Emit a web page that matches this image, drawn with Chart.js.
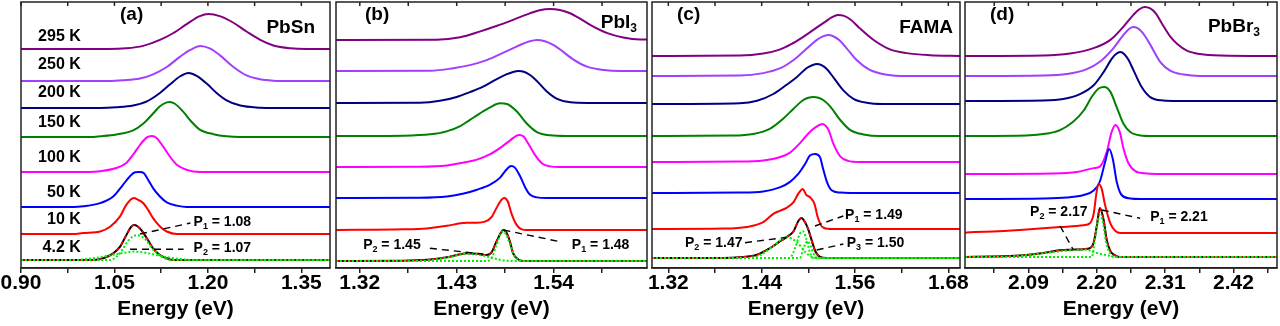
<!DOCTYPE html>
<html><head><meta charset="utf-8">
<script src="https://cdn.jsdelivr.net/npm/chart.js@4.4.1/dist/chart.umd.min.js"></script>
<style>
html,body{margin:0;padding:0;background:#fff;width:1280px;height:326px;overflow:hidden;}
canvas{position:absolute;left:0;top:0;}
</style></head><body>
<canvas id="ca" width="1280" height="326"></canvas>
<canvas id="cb" width="1280" height="326"></canvas>
<canvas id="cc" width="1280" height="326"></canvas>
<canvas id="cd" width="1280" height="326"></canvas>
<script>
// ---------- common ----------
const temps = ['4.2 K','10 K','50 K','100 K','150 K','200 K','250 K','295 K'];
const tempLabelY = [20, 48, 75, 110, 145, 175, 203, 231];

// ---------- panel (a) PbSn ----------
const ticksA = [0.90, 1.05, 1.20, 1.35];
const minorA = [0.975, 1.125, 1.275];
const offA = [8, 34, 61, 96, 131, 160, 187, 219];
const ampA = [35, 36, 35, 36, 35, 35, 35, 35];
const A_4K = [[0.90,0],[1.016,0],[1.032,0.05],[1.048,0.19],[1.059,0.38],[1.069,0.71],[1.077,0.95],[1.082,1.0],[1.091,0.90],[1.102,0.62],[1.112,0.33],[1.123,0.14],[1.134,0.05],[1.144,0],[1.396,0]];
const A_P1 = [[0.90,0],[1.043,0],[1.059,0.2],[1.072,0.55],[1.086,0.71],[1.099,0.6],[1.112,0.3],[1.128,0.08],[1.139,0],[1.396,0]];
const A_P2 = [[0.90,0],[0.984,0],[1.016,0.05],[1.048,0.15],[1.064,0.2],[1.080,0.24],[1.102,0.2],[1.128,0.1],[1.155,0.03],[1.177,0],[1.396,0]];
const A_10K = [[0.90,0],[0.984,0],[1.000,0.03],[1.027,0.07],[1.043,0.2],[1.059,0.49],[1.069,0.81],[1.081,1.0],[1.088,0.95],[1.096,0.86],[1.104,0.67],[1.112,0.44],[1.123,0.21],[1.134,0.07],[1.150,0],[1.396,0]];
const A_50K = [[0.90,0],[0.984,0],[1.000,0.02],[1.027,0.11],[1.048,0.30],[1.064,0.64],[1.075,0.88],[1.083,0.99],[1.091,1.0],[1.097,0.97],[1.104,0.78],[1.112,0.54],[1.123,0.30],[1.134,0.13],[1.150,0.04],[1.166,0],[1.396,0]];
const A_100K = [[0.90,0],[1.010,0],[1.027,0.02],[1.053,0.11],[1.069,0.25],[1.080,0.48],[1.091,0.75],[1.102,0.96],[1.110,1.0],[1.118,0.94],[1.128,0.71],[1.139,0.43],[1.150,0.2],[1.166,0.06],[1.187,0],[1.396,0]];
const A_150K = [[0.90,0],[1.010,0],[1.027,0.02],[1.053,0.07],[1.080,0.19],[1.096,0.38],[1.112,0.67],[1.123,0.88],[1.134,0.99],[1.139,1.0],[1.147,0.95],[1.161,0.71],[1.174,0.43],[1.187,0.21],[1.209,0.08],[1.230,0.02],[1.252,0],[1.396,0]];
const A_200K = [[0.90,0],[1.027,0],[1.053,0.02],[1.080,0.07],[1.102,0.19],[1.123,0.43],[1.139,0.67],[1.155,0.9],[1.169,1.0],[1.182,0.92],[1.198,0.7],[1.214,0.43],[1.230,0.22],[1.252,0.07],[1.284,0.01],[1.305,0],[1.396,0]];
const A_250K = [[0.90,0],[1.040,0],[1.064,0.02],[1.091,0.07],[1.112,0.19],[1.134,0.4],[1.155,0.69],[1.171,0.88],[1.188,1.0],[1.203,0.93],[1.219,0.74],[1.241,0.4],[1.262,0.16],[1.284,0.05],[1.305,0.01],[1.330,0],[1.396,0]];
const A_295K = [[0.90,0],[1.040,0],[1.069,0.02],[1.096,0.09],[1.123,0.26],[1.144,0.45],[1.166,0.71],[1.187,0.94],[1.201,1.0],[1.219,0.94],[1.241,0.75],[1.262,0.5],[1.284,0.26],[1.305,0.1],[1.332,0.02],[1.359,0],[1.396,0]];
const annA = [['P','1',' = 1.08',1.177,46],['P','2',' = 1.07',1.177,19.5]];
const linesA = [[1.091,34,1.172,45],[1.075,18.7,1.161,18.7]];

// ---------- panel (b) PbI3 ----------
const ticksB = [1.32, 1.43, 1.54];
const minorB = [1.375, 1.485, 1.595];
const offB = [7, 38, 70, 101, 132, 165, 197, 228];
const ampB = [31, 32, 32, 32, 33, 32, 31, 31];
const B_4K = [[1.293,0],[1.369,0.01],[1.400,0.05],[1.419,0.12],[1.434,0.22],[1.441,0.25],[1.453,0.23],[1.464,0.19],[1.470,0.3],[1.475,0.62],[1.481,0.95],[1.483,1.0],[1.487,0.89],[1.491,0.57],[1.494,0.25],[1.500,0.05],[1.506,0],[1.646,0]];
const B_P1 = [[1.293,0],[1.464,0],[1.470,0.12],[1.475,0.5],[1.481,0.93],[1.483,0.95],[1.487,0.8],[1.491,0.5],[1.496,0.15],[1.502,0.02],[1.508,0],[1.646,0]];
const B_P2 = [[1.293,0],[1.388,0],[1.407,0.05],[1.426,0.15],[1.441,0.24],[1.456,0.2],[1.468,0.12],[1.479,0.04],[1.494,0],[1.646,0]];
const B_10K = [[1.293,0],[1.369,0.02],[1.396,0.05],[1.419,0.13],[1.434,0.21],[1.441,0.23],[1.453,0.23],[1.462,0.26],[1.470,0.42],[1.475,0.68],[1.481,0.95],[1.484,1.0],[1.488,0.89],[1.492,0.53],[1.498,0.16],[1.504,0.02],[1.510,0],[1.646,0]];
const B_50K = [[1.293,0],[1.388,0.01],[1.419,0.05],[1.438,0.14],[1.453,0.26],[1.468,0.42],[1.479,0.63],[1.485,0.84],[1.490,0.98],[1.492,1.0],[1.496,0.95],[1.502,0.68],[1.508,0.32],[1.513,0.11],[1.521,0.02],[1.532,0],[1.646,0]];
const B_100K = [[1.293,0],[1.388,0.01],[1.419,0.05],[1.438,0.14],[1.453,0.23],[1.468,0.4],[1.481,0.63],[1.491,0.84],[1.498,0.98],[1.501,1.0],[1.506,0.95],[1.511,0.74],[1.519,0.37],[1.527,0.11],[1.536,0.02],[1.547,0],[1.646,0]];
const B_150K = [[1.293,0],[1.370,0.01],[1.400,0.05],[1.4185,0.14],[1.434,0.3],[1.445,0.49],[1.456,0.68],[1.468,0.87],[1.479,0.99],[1.487,0.97],[1.498,0.75],[1.5095,0.38],[1.521,0.12],[1.536,0.02],[1.555,0],[1.646,0]];
const B_200K = [[1.293,0],[1.388,0.01],[1.411,0.07],[1.430,0.19],[1.445,0.34],[1.460,0.51],[1.475,0.74],[1.487,0.9],[1.494,0.97],[1.500,1.0],[1.507,0.97],[1.514,0.86],[1.521,0.69],[1.532,0.37],[1.544,0.13],[1.559,0.02],[1.578,0],[1.646,0]];
const B_250K = [[1.293,0],[1.400,0.01],[1.426,0.09],[1.445,0.19],[1.464,0.35],[1.483,0.59],[1.502,0.84],[1.512,0.95],[1.521,1.0],[1.530,0.96],[1.539,0.85],[1.547,0.7],[1.563,0.36],[1.578,0.14],[1.597,0.03],[1.616,0],[1.646,0]];
const B_295K = [[1.293,0],[1.407,0.01],[1.434,0.09],[1.456,0.27],[1.475,0.45],[1.494,0.65],[1.513,0.86],[1.524,0.96],[1.536,1.0],[1.547,0.97],[1.558,0.87],[1.570,0.69],[1.582,0.48],[1.601,0.22],[1.619,0.08],[1.638,0.02],[1.646,0.02]];
const annB = [['P','2',' = 1.45',1.3238,23],['P','1',' = 1.48',1.5607,23]];
const linesB = [[1.3996,19.7,1.4602,14],[1.483,38,1.5474,26.3]];

// ---------- panel (c) FAMA ----------
const ticksC = [1.32, 1.44, 1.56, 1.68];
const minorC = [1.38, 1.50, 1.62];
const offC = [10, 39, 75, 106, 132, 164, 192, 212];
const ampC = [40, 40, 39, 38, 39, 40, 41, 41];
const C_4K = [[1.299,0],[1.391,0],[1.412,0.02],[1.434,0.08],[1.451,0.25],[1.464,0.42],[1.472,0.52],[1.481,0.67],[1.487,0.92],[1.491,1.0],[1.496,0.89],[1.500,0.71],[1.504,0.46],[1.509,0.17],[1.515,0.03],[1.524,0],[1.695,0]];
const C_P2 = [[1.299,0],[1.421,0],[1.438,0.07],[1.455,0.3],[1.472,0.52],[1.485,0.4],[1.496,0.15],[1.504,0.03],[1.511,0],[1.695,0]];
const C_P1 = [[1.299,0],[1.476,0],[1.483,0.25],[1.489,0.6],[1.493,0.67],[1.497,0.5],[1.502,0.15],[1.506,0],[1.695,0]];
const C_P3 = [[1.299,0],[1.489,0],[1.494,0.25],[1.499,0.42],[1.503,0.3],[1.507,0.1],[1.512,0],[1.695,0]];
const C_10K = [[1.299,0],[1.391,0.01],[1.421,0.05],[1.442,0.17],[1.455,0.38],[1.464,0.46],[1.472,0.53],[1.481,0.67],[1.487,0.88],[1.493,1.0],[1.497,0.86],[1.503,0.78],[1.508,0.62],[1.512,0.3],[1.518,0.05],[1.528,0],[1.695,0]];
const C_50K = [[1.299,0],[1.412,0.01],[1.442,0.04],[1.464,0.15],[1.476,0.28],[1.487,0.49],[1.496,0.75],[1.502,0.96],[1.509,1.0],[1.515,0.92],[1.519,0.62],[1.524,0.28],[1.530,0.07],[1.541,0.01],[1.554,0],[1.695,0]];
const C_100K = [[1.299,0],[1.412,0.01],[1.442,0.04],[1.464,0.13],[1.476,0.24],[1.489,0.49],[1.500,0.75],[1.509,0.91],[1.518,1.0],[1.526,0.84],[1.532,0.49],[1.541,0.15],[1.551,0.03],[1.566,0],[1.695,0]];
const C_150K = [[1.299,0],[1.404,0.01],[1.429,0.05],[1.451,0.19],[1.468,0.45],[1.481,0.7],[1.494,0.93],[1.500,0.98],[1.506,1.0],[1.513,0.98],[1.520,0.91],[1.528,0.76],[1.541,0.41],[1.554,0.15],[1.571,0.04],[1.592,0],[1.695,0]];
const C_200K = [[1.299,0],[1.412,0.02],[1.434,0.08],[1.455,0.25],[1.472,0.48],[1.485,0.67],[1.498,0.9],[1.505,0.97],[1.511,1.0],[1.517,0.97],[1.524,0.87],[1.532,0.67],[1.545,0.34],[1.558,0.13],[1.575,0.03],[1.596,0],[1.695,0]];
const C_250K = [[1.299,0],[1.412,0.01],[1.442,0.07],[1.464,0.19],[1.481,0.39],[1.498,0.67],[1.511,0.88],[1.518,0.96],[1.525,1.0],[1.532,0.97],[1.540,0.87],[1.549,0.68],[1.562,0.39],[1.579,0.15],[1.601,0.03],[1.626,0],[1.695,0]];
const C_295K = [[1.299,0],[1.412,0.01],[1.442,0.06],[1.462,0.15],[1.478,0.29],[1.492,0.45],[1.506,0.63],[1.522,0.84],[1.530,0.94],[1.538,1.0],[1.546,0.98],[1.555,0.88],[1.566,0.68],[1.584,0.39],[1.605,0.16],[1.626,0.07],[1.656,0.02],[1.695,0]];
const annC = [['P','1',' = 1.49',1.5472,53],['P','2',' = 1.47',1.3414,24.7],['P','3',' = 1.50',1.5493,24.7]];
const linesC = [[1.5086,42,1.545,52],[1.4186,25.3,1.4722,30.7],[1.5107,18,1.545,24]];

// ---------- panel (d) PbBr3 ----------
const ticksD = [2.09, 2.20, 2.31, 2.42];
const minorD = [2.035, 2.145, 2.255, 2.365, 2.475];
const offD = [11, 35, 69, 94, 132, 167, 192, 212];
const ampD = [49, 49, 50, 49, 49, 49, 49, 49];
const D_4K = [[1.988,0],[2.034,0.01],[2.061,0.02],[2.087,0.04],[2.114,0.08],[2.141,0.14],[2.162,0.15],[2.179,0.16],[2.189,0.18],[2.195,0.29],[2.200,0.63],[2.205,1.0],[2.211,0.76],[2.216,0.35],[2.222,0.12],[2.230,0.03],[2.238,0],[2.49,0]];
const D_P1 = [[1.988,0],[2.192,0],[2.197,0.35],[2.202,0.75],[2.205,0.85],[2.210,0.7],[2.215,0.3],[2.222,0.05],[2.227,0],[2.49,0]];
const D_P2 = [[1.988,0],[2.044,0],[2.087,0.04],[2.130,0.1],[2.162,0.14],[2.184,0.15],[2.195,0.1],[2.211,0.05],[2.227,0.01],[2.238,0],[2.49,0]];
const D_10K = [[1.988,0],[1.991,0.01],[2.034,0.03],[2.087,0.07],[2.141,0.12],[2.179,0.16],[2.189,0.2],[2.195,0.39],[2.200,0.86],[2.203,1.0],[2.208,0.9],[2.213,0.59],[2.222,0.19],[2.230,0.04],[2.238,0],[2.49,0]];
const D_50K = [[1.988,0],[2.114,0.01],[2.152,0.03],[2.179,0.08],[2.195,0.17],[2.205,0.35],[2.213,0.72],[2.220,1.0],[2.226,0.79],[2.232,0.35],[2.240,0.08],[2.254,0.01],[2.270,0],[2.49,0]];
const D_100K = [[1.988,0],[2.130,0.01],[2.168,0.04],[2.195,0.12],[2.205,0.15],[2.216,0.45],[2.224,0.86],[2.230,1.0],[2.237,0.86],[2.243,0.52],[2.251,0.22],[2.262,0.06],[2.281,0.01],[2.302,0],[2.49,0]];
const D_150K = [[1.988,0],[2.087,0.01],[2.120,0.05],[2.141,0.12],[2.162,0.29],[2.179,0.52],[2.192,0.8],[2.203,0.97],[2.212,1.0],[2.222,0.9],[2.232,0.59],[2.243,0.25],[2.254,0.08],[2.270,0.01],[2.291,0],[2.49,0]];
const D_200K = [[1.988,0],[2.114,0.01],[2.146,0.04],[2.173,0.14],[2.195,0.32],[2.211,0.59],[2.224,0.86],[2.231,0.96],[2.238,1.0],[2.244,0.96],[2.251,0.84],[2.259,0.63],[2.272,0.29],[2.286,0.08],[2.307,0.01],[2.329,0],[2.49,0]];
const D_250K = [[1.988,0],[2.114,0.01],[2.152,0.04],[2.184,0.14],[2.205,0.29],[2.227,0.57],[2.243,0.84],[2.251,0.95],[2.258,1.0],[2.265,0.98],[2.274,0.88],[2.286,0.64],[2.302,0.29],[2.318,0.11],[2.340,0.03],[2.366,0],[2.49,0]];
const D_295K = [[1.988,0],[2.114,0.01],[2.157,0.05],[2.195,0.16],[2.222,0.33],[2.243,0.6],[2.259,0.84],[2.268,0.95],[2.277,1.0],[2.286,0.97],[2.295,0.87],[2.305,0.66],[2.318,0.4],[2.330,0.24],[2.345,0.11],[2.366,0.04],[2.399,0.01],[2.49,0]];
const annD = [['P','2',' = 2.17',2.0927,56.3],['P','1',' = 2.21',2.2859,51.3]];
const linesD = [[2.141,42,2.1624,18],[2.2081,58,2.2698,49.7]];

// ---------- styles / layout ----------
const FONT = "'Liberation Sans', Arial, sans-serif";
const colors = ['#000000','#ff0000','#0000ff','#ff00ff','#008000','#000080','#a040ff','#800080'];
const fitColor = '#00ee00';
const frameColor = '#222222';

const panels = [
  {canvas:'ca', xmin:0.90, xmax:1.396, left:21, right:330, major:ticksA, minor:minorA,
   curves:[A_4K,A_10K,A_50K,A_100K,A_150K,A_200K,A_250K,A_295K], fits:[A_P1,A_P2], off:offA, amp:ampA,
   ann:annA, lines:linesA, tag:'(a)', tagDx:99, name:['PbSn','',''], nameRight:15, nameY:28, temps:true},
  {canvas:'cb', xmin:1.293, xmax:1.646, left:336, right:647, major:ticksB, minor:minorB,
   curves:[B_4K,B_10K,B_50K,B_100K,B_150K,B_200K,B_250K,B_295K], fits:[B_P1,B_P2], off:offB, amp:ampB,
   ann:annB, lines:linesB, tag:'(b)', tagDx:29, name:['PbI','3',''], nameRight:10, nameY:23},
  {canvas:'cc', xmin:1.299, xmax:1.695, left:652, right:960, major:ticksC, minor:minorC,
   curves:[C_4K,C_10K,C_50K,C_100K,C_150K,C_200K,C_250K,C_295K], fits:[C_P1,C_P2,C_P3], off:offC, amp:ampC,
   ann:annC, lines:linesC, tag:'(c)', tagDx:25, name:['FAMA','',''], nameRight:7, nameY:28},
  {canvas:'cd', xmin:1.988, xmax:2.49, left:965, right:1277, major:ticksD, minor:minorD,
   curves:[D_4K,D_10K,D_50K,D_100K,D_150K,D_200K,D_250K,D_295K], fits:[D_P1,D_P2], off:offD, amp:ampD,
   ann:annD, lines:linesD, tag:'(d)', tagDx:25, name:['PbBr','3',''], nameRight:17, nameY:27}
];

function series(pts, off, amp){ return pts.map(p => ({x:p[0], y: off + p[1]*amp})); }

function subWidth(ctx, parts, size){
  ctx.font = `bold ${size}px ${FONT}`;
  let w = ctx.measureText(parts[0]).width + (parts[2] ? ctx.measureText(parts[2]).width : 0);
  if (parts[1]) { ctx.font = `bold ${Math.round(size*0.64)}px ${FONT}`; w += ctx.measureText(parts[1]).width; }
  return w;
}
function drawSub(ctx, x, y, parts, size){
  ctx.textAlign='left'; ctx.textBaseline='middle'; ctx.fillStyle='#000';
  ctx.font = `bold ${size}px ${FONT}`;
  ctx.fillText(parts[0], x, y);
  let w = ctx.measureText(parts[0]).width;
  if (parts[1]) {
    ctx.font = `bold ${Math.round(size*0.64)}px ${FONT}`;
    ctx.fillText(parts[1], x + w, y + size*0.32);
    w += ctx.measureText(parts[1]).width;
  }
  if (parts[2]) { ctx.font = `bold ${size}px ${FONT}`; ctx.fillText(parts[2], x + w, y); }
}

function makePlugin(p){
  return {
    id:'deco',
    afterDatasetsDraw(chart){
      const {ctx, chartArea:{left,right,top,bottom}, scales:{x,y}} = chart;
      ctx.save();
      ctx.strokeStyle = '#000'; ctx.lineWidth = 1.4; ctx.setLineDash([7,5]);
      p.lines.forEach(l => {
        ctx.beginPath();
        ctx.moveTo(x.getPixelForValue(l[0]), y.getPixelForValue(l[1]));
        ctx.lineTo(x.getPixelForValue(l[2]), y.getPixelForValue(l[3]));
        ctx.stroke();
      });
      ctx.setLineDash([]);
      p.ann.forEach(a => drawSub(ctx, x.getPixelForValue(a[3]), y.getPixelForValue(a[4]), [a[0],a[1],a[2]], 14));
      if (p.temps) {
        ctx.font = `bold 16px ${FONT}`; ctx.textAlign='right'; ctx.textBaseline='middle'; ctx.fillStyle='#000';
        temps.forEach((t,i) => ctx.fillText(t, x.getPixelForValue(0.996), y.getPixelForValue(tempLabelY[i])));
      }
      drawSub(ctx, left + p.tagDx, top + 13, [p.tag,'',''], 19);
      const nw = subWidth(ctx, p.name, 19);
      drawSub(ctx, right - p.nameRight - nw, top + p.nameY - 2, p.name, 19);
      ctx.strokeStyle = frameColor; ctx.lineWidth = 1.5;
      ctx.strokeRect(left, top, right-left, bottom-top);
      ctx.beginPath();
      x.ticks.forEach(t => { const px = x.getPixelForValue(t.value); ctx.moveTo(px, top); ctx.lineTo(px, top+4); });
      ctx.stroke();
      ctx.restore();
    }
  };
}

panels.forEach(p => {
  const datasets = [];
  p.fits.forEach(f => datasets.push({data: series(f, p.off[0], p.amp[0]), borderColor: fitColor, borderWidth: 2, borderDash:[2,2]}));
  datasets.push({data: series(p.curves[0], p.off[0], p.amp[0]), borderColor:'#ff0000', borderWidth:1.6, borderDash:[4,3]});
  p.curves.forEach((c,i) => datasets.push({data: series(c, p.off[i], p.amp[i]), borderColor: colors[i], borderWidth: 2}));
  datasets.forEach(d => { d.pointRadius = 0; d.fill = false; d.cubicInterpolationMode = 'monotone'; });
  const allTicks = [...p.major, ...p.minor].sort((a,b)=>a-b);
  new Chart(document.getElementById(p.canvas), {
    type: 'line',
    data: { datasets },
    options: {
      responsive: false, animation: false, devicePixelRatio: 1,
      layout: { padding: { left: p.left, right: 1280 - p.right, top: 2, bottom: 0 } },
      plugins: { legend: {display:false}, tooltip: {enabled:false} },
      scales: {
        x: {
          type: 'linear', min: p.xmin, max: p.xmax,
          afterBuildTicks: s => { s.ticks = allTicks.map(v => ({value: v})); },
          afterFit: s => { s.height = 58; },
          ticks: {
            autoSkip: false, maxRotation: 0, padding: 0, color: '#000',
            font: { family: FONT, size: 21, weight: 'bold', lineHeight: 1.0 },
            callback: (v, i, t) => { const val = t[i].value; return p.major.some(m => Math.abs(m - val) < 1e-9) ? val.toFixed(2) : ''; }
          },
          grid: { display: true, drawOnChartArea: false, drawTicks: true, tickLength: 5, color: frameColor, lineWidth: 1.5 },
          border: { display: true, color: frameColor, width: 1.5 },
          title: { display: true, text: 'Energy (eV)', color: '#000', font: { family: FONT, size: 21, weight: 'bold' }, padding: { top: 0, bottom: 4 } }
        },
        y: { type: 'linear', min: 0, max: 266, display: false }
      }
    },
    plugins: [makePlugin(p)]
  });
});
</script>
</body></html>
